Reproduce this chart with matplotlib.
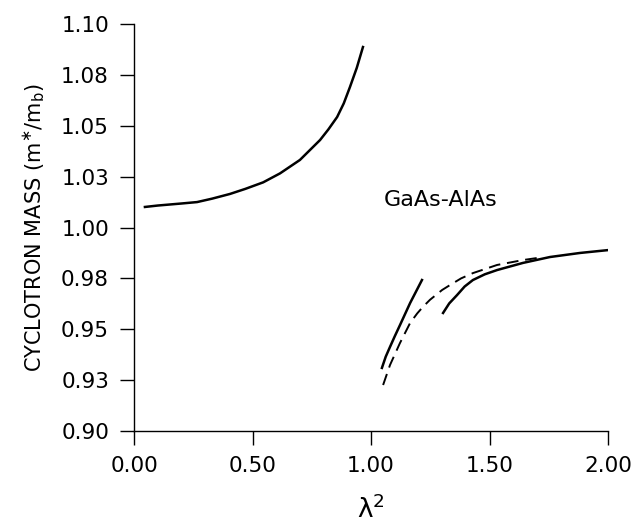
import matplotlib
matplotlib.use("Agg")
import matplotlib.pyplot as plt

# upper branch (solid)
x_up = [0.046, 0.10, 0.20, 0.266, 0.33, 0.405, 0.47, 0.545, 0.616, 0.70, 0.785, 0.82, 0.857, 0.885, 0.911, 0.94, 0.966]
y_up = [1.0101, 1.0108, 1.0118, 1.0125, 1.0142, 1.0165, 1.019, 1.0222, 1.0266, 1.0332, 1.043, 1.0482, 1.0543, 1.0610, 1.069, 1.0785, 1.0887]

# short solid branch
x_s1 = [1.046, 1.062, 1.080, 1.10, 1.122, 1.165, 1.215]
y_s1 = [0.9310, 0.9365, 0.9413, 0.9465, 0.9520, 0.9629, 0.9742]

# dashed branch
x_d = [1.051, 1.080, 1.122, 1.165, 1.195, 1.219, 1.249, 1.30, 1.333, 1.38, 1.43, 1.532, 1.641, 1.70]
y_d = [0.9226, 0.9324, 0.9432, 0.9531, 0.9578, 0.9610, 0.9645, 0.9693, 0.9717, 0.9750, 0.9776, 0.9816, 0.9840, 0.9850]

# long solid branch
x_s2 = [1.304, 1.33, 1.363, 1.395, 1.43, 1.48, 1.532, 1.641, 1.755, 1.882, 2.0]
y_s2 = [0.9580, 0.9627, 0.9668, 0.9710, 0.9742, 0.9770, 0.9791, 0.9826, 0.9855, 0.9875, 0.9889]

x_ticks = [0.0, 0.5, 1.0, 1.5, 2.0]
x_ticklabels = ["0.00", "0.50", "1.00", "1.50", "2.00"]
y_ticks = [0.900, 0.925, 0.950, 0.975, 1.000, 1.025, 1.050, 1.075, 1.100]
y_ticklabels = ["0.90", "0.93", "0.95", "0.98", "1.00", "1.03", "1.05", "1.08", "1.10"]

fig = plt.figure(figsize=(6.34, 5.28), dpi=100)
ax = fig.add_axes([0.2114, 0.1837, 0.959 - 0.2114, 0.9545 - 0.1837])

ax.plot(x_up, y_up, color="black", lw=1.8, solid_joinstyle="round")
ax.plot(x_s1, y_s1, color="black", lw=1.8, solid_joinstyle="round")
ax.plot(x_d, y_d, color="black", lw=1.4, linestyle=(0, (6, 3.5)))
ax.plot(x_s2, y_s2, color="black", lw=1.8, solid_joinstyle="round")

ax.text(1.295, 1.0135, "GaAs-AlAs", fontsize=16, ha="center", va="center")

ax.set_xlim(0, 2.0)
ax.set_ylim(0.9, 1.1)
ax.set_xticks(x_ticks)
ax.set_xticklabels(x_ticklabels)
ax.set_yticks(y_ticks)
ax.set_yticklabels(y_ticklabels)
ax.tick_params(direction="out", length=10, width=1, labelsize=15.5, pad=8)

for s in ["top", "right"]:
    ax.spines[s].set_visible(False)
for s in ["left", "bottom"]:
    ax.spines[s].set_linewidth(1.0)

ax.set_ylabel(r"CYCLOTRON MASS (m$^{\ast}$/m$_{\rm b}$)", fontsize=15, labelpad=10)
ax.set_xlabel(r"$\mathrm{\lambda}^2$", fontsize=19, labelpad=14)

fig.savefig("out.png", dpi=100)
